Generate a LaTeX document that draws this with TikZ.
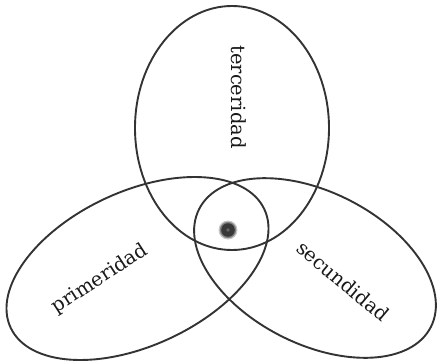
\documentclass[tikz,border=0pt]{standalone}
\usepackage{fontspec}
\newfontfamily\slabfont{DejaVu Serif}
\usetikzlibrary{shapes.geometric}
\begin{document}
\begin{tikzpicture}[x=1pt,y=-1pt,
  ring/.style={ellipse, draw=black!80, line width=1.9pt, inner sep=0pt},
  lbl/.style={font=\slabfont\fontsize{19.5}{24}\selectfont, text=black!90, inner sep=0pt}]
\useasboundingbox (0,0) rectangle (437,361);
\fill[white] (0,0) rectangle (437,361);
% three ellipses
\node[ring, minimum width=194pt, minimum height=244pt] (terc) at (232,128) {};
\node[ring, minimum width=280pt, minimum height=154pt, rotate=25] (prim) at (137.5,268.5) {};
\node[ring, minimum width=260pt, minimum height=152pt, rotate=-27] (secu) at (315,268) {};
% central dot
\coordinate (dot) at (228,230);
\fill[black!22] (dot) circle (9.5);
\fill[black!50] (dot) circle (8.2);
\fill[black!78] (dot) circle (6.8);
\fill[black!60] (dot) circle (1.8);
% labels
\node[lbl, rotate=-90] (tt) at (238.5,97) {terceridad};
\node[lbl, rotate=33] (tp) at (100,279) {primeridad};
\node[lbl, rotate=-40] (ts) at (343,281) {secundidad};
\end{tikzpicture}
\end{document}
